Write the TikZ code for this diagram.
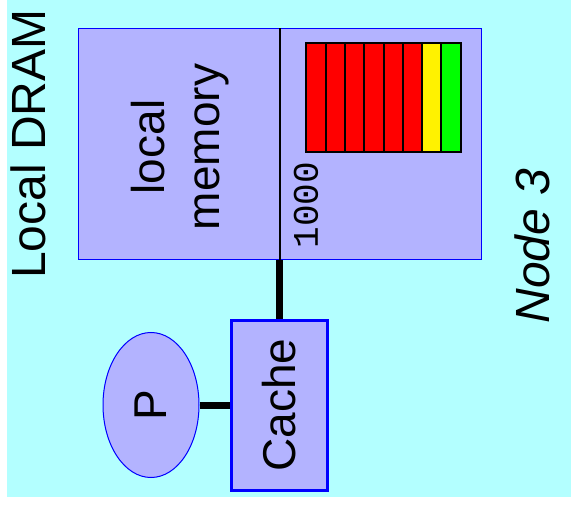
\documentclass[tikz,border=0pt]{standalone}
\usepackage{fontspec}
\setmainfont{Liberation Sans}
\setmonofont{Liberation Mono}
\usepackage{tikz}
\usetikzlibrary{shapes, positioning}
\definecolor{nodebg}{RGB}{179,255,255}
\definecolor{unitfill}{RGB}{179,179,255}
\tikzstyle{unit} = [draw=blue, fill=unitfill, rectangle, inner sep=0pt]
\tikzstyle{bigtext} = [rotate=90, font=\fontsize{46}{55}\selectfont, inner sep=0pt, align=center]
\tikzstyle{bus} = [line width=7pt]
\tikzstyle{slot} = [draw, line width=2pt, inner sep=0pt,
    minimum width=19.3pt, minimum height=108.5pt]

\begin{document}
\begin{tikzpicture}[x=1pt, y=-1pt]
    \useasboundingbox (0,0) rectangle (571,508);
    \fill [nodebg] (6.5,0) rectangle (571,496.5);

    % memory of the node, split in two halves
    \node [unit, line width=1pt, minimum width=403pt, minimum height=231pt] (mem) at (279.5,144.5) {};
    \coordinate (split) at (279.5,144.5);
    \draw [line width=2pt] (split |- mem.north) -- (split |- mem.south);
    \node [bigtext] (memtext) at (180,147) {local\\memory};

    % directory entry
    \foreach \c [count=\i] in {red,red,red,red,red,red,yellow,green}
        \node [slot, fill=\c] (slot\i) at ({306.3+19.3*(\i-0.5)},97.5) {};
    \node [rotate=90, inner sep=0pt, font=\ttfamily\fontsize{36}{40}\selectfont] (addr) at (306,205) {1000};

    % processor and cache
    \node [unit, bigtext, line width=3pt, minimum width=170pt, minimum height=96pt] (cache) at (279.5,405) {Cache};
    \node [unit, bigtext, shape=ellipse, line width=1pt, minimum width=145pt, minimum height=96pt] (proc) at (151,405) {P};
    \draw [bus] (cache) -- (cache |- mem.south);
    \draw [bus] (proc) -- (cache);

    \node [bigtext, font=\fontsize{48}{55}\selectfont] (dram) at (28,144) {Local DRAM};
    \node [bigtext, font=\fontsize{48}{55}\selectfont\itshape] (nodename) at (532.5,246) {Node 3};
\end{tikzpicture}
\end{document}
